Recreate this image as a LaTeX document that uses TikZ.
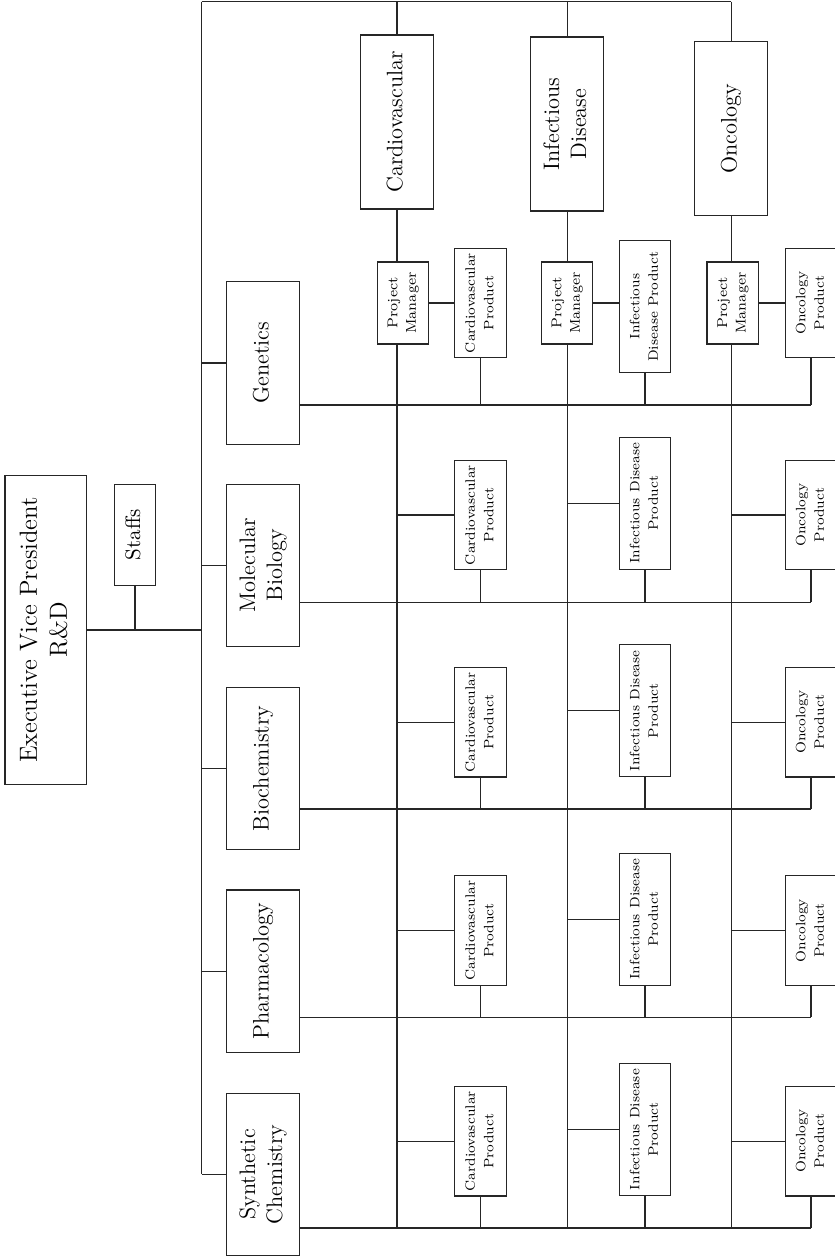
\documentclass[tikz,border=0pt]{standalone}
\usetikzlibrary{positioning, calc}

\newcommand{\vlabel}[1]{\rotatebox{90}{\begin{tabular}{@{}c@{}}#1\end{tabular}}}

\begin{document}
\begin{tikzpicture}[
    x=0.5pt, y=-0.5pt,
    box/.style={
        rectangle, draw=black!85, line width=0.6pt,
        inner sep=0pt, outer sep=0pt, align=center,
    },
    exec/.style={box, minimum width=40.8pt, minimum height=154.3pt,
        font=\fontsize{12.4}{15}\selectfont},
    staffbox/.style={box, minimum width=20.7pt, minimum height=50.4pt,
        font=\fontsize{10.5}{13}\selectfont},
    func/.style={box, minimum width=36.45pt, minimum height=81.2pt,
        font=\fontsize{11.2}{13.5}\selectfont},
    prog/.style={box, minimum width=36.5pt, minimum height=87pt,
        font=\fontsize{11.2}{13.5}\selectfont},
    pm/.style={box, minimum width=25.7pt, minimum height=41pt,
        font=\fontsize{7.1}{9.2}\selectfont},
    prod/.style={box, minimum width=25.7pt, minimum height=54.7pt,
        font=\fontsize{6.8}{9.2}\selectfont},
    prodid/.style={prod, minimum height=66pt},
    link/.style={draw=black!85, line width=0.6pt},
]
\useasboundingbox (0,0) rectangle (835,1260);

% --- Top of the chart ---
\node[exec] (exec) at (45.85,630) {\vlabel{Executive Vice President\\R\&D}};
\node[staffbox] (staffs) at (135,534.7) {\vlabel{Staffs}};
\coordinate (bustop) at (201.5,1.5);

% --- Functional departments ---
\node[func] (gen) at (263.2,362.9)  {\vlabel{Genetics}};
\node[func] (mol) at (263.2,565.3)  {\vlabel{Molecular\\Biology}};
\node[func] (bio) at (263.2,768.5)  {\vlabel{Biochemistry}};
\node[func] (pha) at (263.2,971.2)  {\vlabel{Pharmacology}};
\node[func] (syn) at (263.2,1174.3) {\vlabel{Synthetic\\Chemistry}};

% --- Programs ---
\node[prog] (cv) at (397,121.9)   {\vlabel{Cardiovascular}};
\node[prog] (iv) at (567.3,124)   {\vlabel{Infectious\\Disease}};
\node[prog] (ov) at (731.3,128.7) {\vlabel{Oncology}};

\node[pm] (pmc) at (403,303)   {\vlabel{Project\\Manager}};
\node[pm] (pmi) at (567,303)   {\vlabel{Project\\Manager}};
\node[pm] (pmo) at (732.7,303) {\vlabel{Project\\Manager}};

% --- Products, Genetics row ---
\node[prod]   (cpgen) at (480.4,303) {\vlabel{Cardiovascular\\Product}};
\node[prodid] (ipgen) at (645,306.7) {\vlabel{Infectious\\Disease Product}};
\node[prod]   (opgen) at (811,303)   {\vlabel{Oncology\\Product}};
\coordinate (rowgen) at (811,405);

% --- Products, other rows ---
\foreach \r/\ry/\cy/\iy in {mol/602.3/515/503.2, bio/809/722.3/710.7,
    pha/1017.3/930.5/919.2, syn/1228/1141.2/1129.5}{
    \node[prod]   (cp\r) at (480.4,\cy) {\vlabel{Cardiovascular\\Product}};
    \node[prodid] (ip\r) at (645,\iy)   {\vlabel{Infectious Disease\\Product}};
    \node[prod]   (op\r) at (811,\cy)   {\vlabel{Oncology\\Product}};
    \coordinate (row\r) at (811,\ry);
}

% --- Lines ---
\draw[link] (exec.east) -- (bustop |- exec.east);
\draw[link] (staffs.south) -- (staffs.south |- exec.east);
\draw[link] (bustop) -- (bustop |- syn.west);
\draw[link] (bustop) -- (ov.north |- bustop);

\foreach \c/\p in {cv/pmc, iv/pmi, ov/pmo}{
    \draw[link] (\c.north |- bustop) -- (\c.north);
    \draw[link] (\c.south) -- (\c.south |- \p.north);
    \draw[link] (\c.south |- \p.south) -- (\c.south |- rowsyn);
}
\draw[link] (pmc.east) -- (pmc.east -| cpgen.west);
\draw[link] (pmi.east) -- (pmi.east -| ipgen.west);
\draw[link] (pmo.east) -- (pmo.east -| opgen.west);

\foreach \r in {gen, mol, bio, pha, syn}{
    \draw[link] (bustop |- \r.west) -- (\r.west);
    \draw[link] (\r.east |- row\r) -- (row\r);
    \draw[link] (cp\r.south) -- (cp\r.south |- row\r);
    \draw[link] (ip\r.south) -- (ip\r.south |- row\r);
    \draw[link] (op\r.south) -- (op\r.south |- row\r);
}
\foreach \r in {mol, bio, pha, syn}{
    \draw[link] (cv |- cp\r.west) -- (cp\r.west);
    \draw[link] (iv |- ip\r.west) -- (ip\r.west);
    \draw[link] (ov |- op\r.west) -- (op\r.west);
}

\end{tikzpicture}
\end{document}
